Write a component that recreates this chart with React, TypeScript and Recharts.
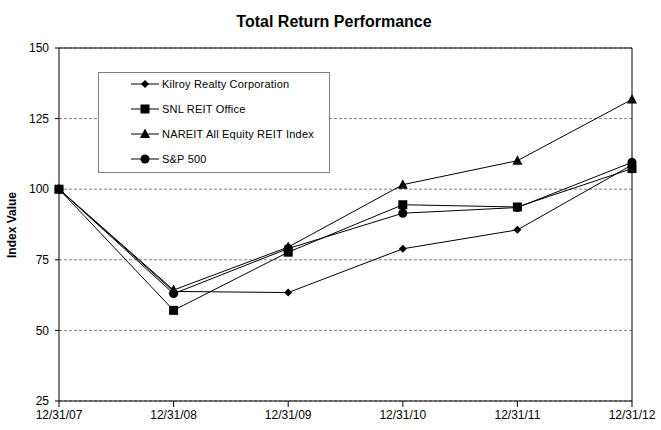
import { CartesianGrid, Line, LineChart, ReferenceLine, XAxis, YAxis } from "recharts";

const dates = ["12/31/07", "12/31/08", "12/31/09", "12/31/10", "12/31/11", "12/31/12"];
const kilroy = [100, 63.8, 63.4, 78.9, 85.6, 108.6];
const snlOffice = [100, 57.1, 77.7, 94.5, 93.7, 107.3];
const nareit = [100, 64.3, 79.5, 101.6, 110.1, 131.8];
const sp500 = [100, 63.0, 79.0, 91.5, 93.5, 109.5];
const yTicks = [25, 50, 75, 100, 125, 150];

const series = [
  { key: "kilroy", name: "Kilroy Realty Corporation", shape: "diamond" },
  { key: "snl", name: "SNL REIT Office", shape: "square" },
  { key: "nareit", name: "NAREIT All Equity REIT Index", shape: "triangle" },
  { key: "sp", name: "S&P 500", shape: "circle" },
];

const rows = dates.map((d, i) => ({
  date: d,
  kilroy: kilroy[i],
  snl: snlOffice[i],
  nareit: nareit[i],
  sp: sp500[i],
}));

const font = "Arial, 'Liberation Sans', sans-serif";

function Marker({ cx, cy, shape }: { cx: number; cy: number; shape: string }) {
  if (cx == null || cy == null) return null;
  if (shape === "diamond") {
    const s = 4;
    return <polygon points={`${cx},${cy - s} ${cx + s},${cy} ${cx},${cy + s} ${cx - s},${cy}`} fill="#000" />;
  }
  if (shape === "square") {
    return <rect x={cx - 4.5} y={cy - 4.5} width={9} height={9} fill="#000" />;
  }
  if (shape === "triangle") {
    return <polygon points={`${cx},${cy - 5.5} ${cx + 5},${cy + 4} ${cx - 5},${cy + 4}`} fill="#000" />;
  }
  return <circle cx={cx} cy={cy} r={4.5} fill="#000" />;
}

// legend box sits over the plot, like the original spreadsheet chart
function LegendBox() {
  return (
    <div
      style={{
        position: "absolute",
        left: 98,
        top: 72,
        width: 232,
        height: 101,
        border: "1px solid #808080",
        background: "#fff",
        fontFamily: font,
        fontSize: 11,
        boxSizing: "border-box",
      }}
    >
      <div style={{ position: "relative", top: -1.5 }}>
        {series.map((s) => (
          <div key={s.key} style={{ display: "flex", alignItems: "center", height: 25 }}>
            <svg width={30} height={12} style={{ marginLeft: 32 }}>
              <line x1={0} y1={6} x2={28} y2={6} stroke="#000" strokeWidth={1} />
              <Marker cx={14} cy={6} shape={s.shape} />
            </svg>
            <span style={{ marginLeft: 1, letterSpacing: 0.2 }}>{s.name}</span>
          </div>
        ))}
      </div>
    </div>
  );
}

export default function App() {
  return (
    <div style={{ position: "absolute", left: 0, top: 0, width: 661, height: 430, background: "#fff" }}>
      <LineChart
        width={661}
        height={430}
        data={rows}
        margin={{ top: 48, right: 29, bottom: 0, left: 0 }}
        style={{ position: "absolute", left: 0, top: 0 }}
      >
        <CartesianGrid vertical={false} stroke="#808080" strokeDasharray="3 2" />
        <XAxis
          dataKey="date"
          height={29}
          stroke="#000"
          tickSize={6}
          tickMargin={3}
          interval={0}
          tick={{ fill: "#000", fontSize: 12, fontFamily: font }}
        />
        <YAxis
          width={59}
          domain={[25, 150]}
          ticks={yTicks}
          stroke="#000"
          tickSize={4}
          tickMargin={6}
          interval={0}
          tick={{ fill: "#000", fontSize: 12, fontFamily: font }}
        />
        <ReferenceLine y={150} stroke="#000" />
        <ReferenceLine x="12/31/12" stroke="#000" />
        {series.map((s) => (
          <Line
            key={s.key}
            dataKey={s.key}
            name={s.name}
            stroke="#000"
            strokeWidth={1}
            isAnimationActive={false}
            dot={(p: any) => <Marker key={`${s.key}-${p.index}`} cx={p.cx} cy={p.cy} shape={s.shape} />}
            activeDot={false}
          />
        ))}
      </LineChart>
      <div
        style={{
          position: "absolute",
          top: 13,
          left: 0,
          width: 668,
          textAlign: "center",
          fontFamily: font,
          fontWeight: "bold",
          fontSize: 16,
        }}
      >
        Total Return Performance
      </div>
      <div
        style={{
          position: "absolute",
          left: 12,
          top: 225,
          transform: "translate(-50%, -50%) rotate(-90deg)",
          fontFamily: font,
          fontWeight: "bold",
          fontSize: 12,
          whiteSpace: "nowrap",
        }}
      >
        Index Value
      </div>
      <LegendBox />
    </div>
  );
}
